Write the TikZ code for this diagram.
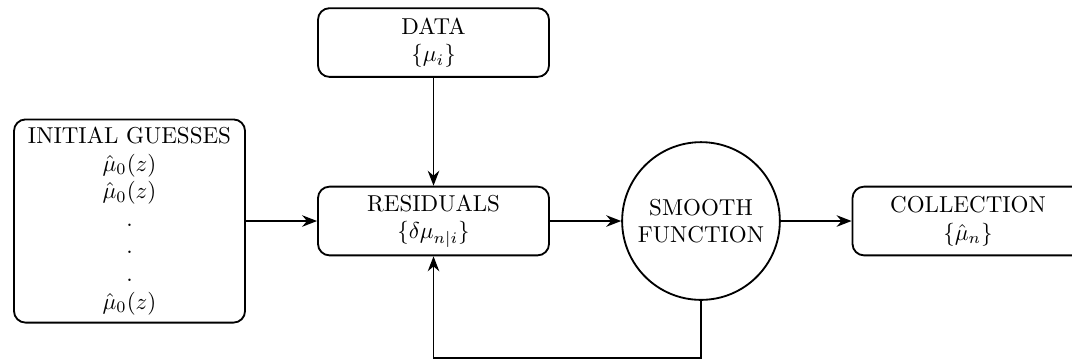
\documentclass[tikz,border=0pt]{standalone}
\usepackage{amsmath,amssymb}
\usepackage{tikz}
\usetikzlibrary{arrows.meta}

\begin{document}
\begin{tikzpicture}[thick,>={Stealth[length=6.5pt,width=5pt]},
    box/.style={draw, rounded corners=5pt, align=center,
      minimum width=3.53cm, minimum height=1.05cm}]
  \useasboundingbox (-6.624, 3.377) rectangle (9.756, -2.170);
  %\draw[color=black!20] (-6.624, 3.377) rectangle (9.756, -2.170);

  \node[box] (data) at (0, 2.727) {DATA\\ $\{\mu_i\}$};
  \node[box] (resid) at (0, 0) {RESIDUALS\\ $\{\delta\mu_{n|i}\}$};
  \node[box, minimum height=3.09cm] (init) at (-4.645, 0)
    {INITIAL GUESSES\\ $\hat{\mu}_0(z)$\\ $\hat{\mu}_0(z)$\\ .\\ .\\ .\\ $\hat{\mu}_0(z)$};
  \node[draw, circle, align=center, inner sep=0pt, minimum size=2.41cm]
    (smooth) at (4.087, 0) {SMOOTH\\ FUNCTION};
  \node[box] (coll) at (8.167, 0) {COLLECTION\\ $\{\hat{\mu}_n\}$};

  \coordinate (turn) at (4.087, -2.093);

  \path[draw, ->] (data) -- (resid);
  \path[draw, ->] (init) -- (resid);
  \path[draw, ->] (resid) -- (smooth);
  \path[draw, ->] (smooth) -- (coll);
  \path[draw, ->] (smooth.south) -- (turn) -| (resid.south);
\end{tikzpicture}
\end{document}
